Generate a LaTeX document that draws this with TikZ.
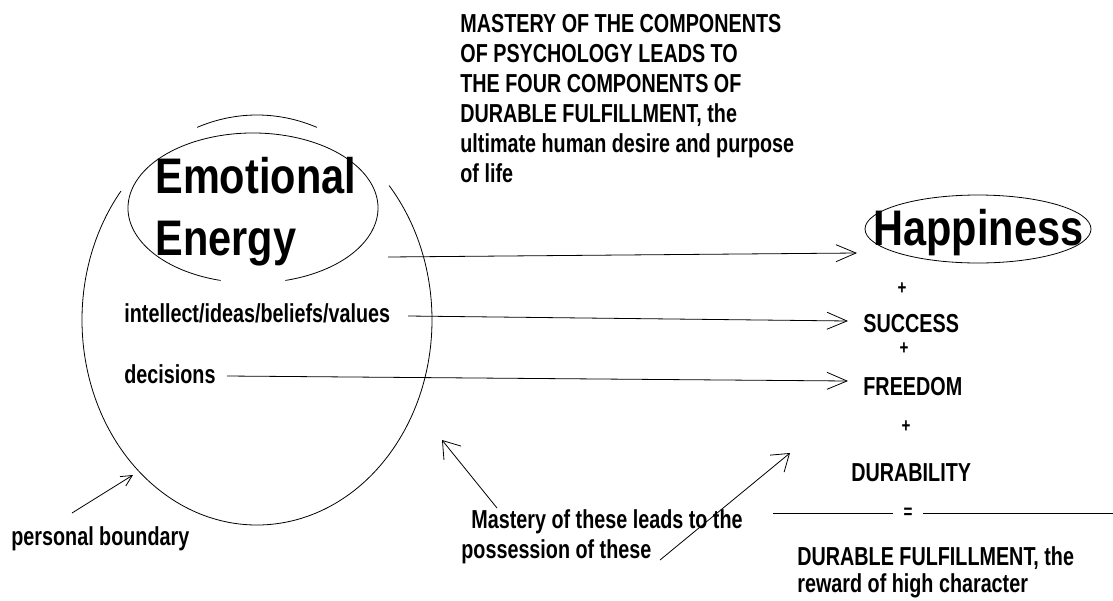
\documentclass[tikz,border=0pt]{standalone}
\usepackage{fontspec}
\setmainfont{Liberation Sans}[FakeStretch=0.76]
\newfontfamily\bigfont{Liberation Sans}[FakeStretch=0.83]
\usetikzlibrary{arrows.meta,shapes.geometric}
\begin{document}
\begin{tikzpicture}[x=1pt,y=-1pt,line width=0.8pt,
  txt/.style={anchor=base west,inner sep=0pt,font=\fontsize{26}{30}\selectfont\bfseries},
  bigtxt/.style={anchor=base west,inner sep=0pt,font=\bigfont\fontsize{50}{56}\selectfont\bfseries},
  plus/.style={inner sep=0pt,font=\fontsize{20}{20}\selectfont\bfseries},
  bigarr/.style={-{Straight Barb[length=20pt,width=17pt]}},
  midarr/.style={-{Straight Barb[length=16pt,width=22pt]}},
  smallarr/.style={-{Straight Barb[length=11pt,width=11pt]}}]
\useasboundingbox (0,0) rectangle (1113,600);
% headline
\node[txt,align=left,anchor=north west] (head) at (460,14) {MASTERY OF THE COMPONENTS\\OF PSYCHOLOGY LEADS TO\\THE FOUR COMPONENTS OF\\DURABLE FULFILLMENT, the\\ultimate human desire and purpose\\of life};
% personal boundary (big ellipse in arcs)
\draw ([shift={(-110:175 and 205)}]257,320) arc[start angle=-110,end angle=-70,x radius=175,y radius=205];
\draw ([shift={(-141:175 and 205)}]257,320) arc[start angle=-141,end angle=-401,x radius=175,y radius=205];
% inner ellipse
\draw ([shift={(105:125 and 75)}]253,208) arc[start angle=105,end angle=435,x radius=125,y radius=75];
\node[bigtxt] (emo) at (155,193) {Emotional};
\node[bigtxt] (ene) at (155,255) {Energy};
\node[txt] (intel) at (124,322) {intellect/ideas/beliefs/values};
\node[txt] (dec) at (124,383) {decisions};
\node[txt] (pb) at (11,545) {personal boundary};
% right column
\node[ellipse,draw,minimum width=226pt,minimum height=68pt,inner sep=0pt] (hapell) at (978,229) {};
\node[bigtxt] (hap) at (873,245) {Happiness};
\node[plus] (p1) at (902,289) {+};
\node[txt] (succ) at (863,332) {SUCCESS};
\node[plus] (p2) at (904,349) {+};
\node[txt] (free) at (863,395) {FREEDOM};
\node[plus] (p3) at (906,427) {+};
\node[txt] (dura) at (851,481) {DURABILITY};
\node[plus] (eq) at (908,513) {=};
\node[txt] (df1) at (797,565) {DURABLE FULFILLMENT, the};
\node[txt] (df2) at (797,592) {reward of high character};
\node[txt] (m1) at (471,528) {Mastery of these leads to the};
\node[txt] (m2) at (461,558) {possession of these};
% connector coordinates
\coordinate (a1) at (388,257); \coordinate (b1) at (857,253);
\coordinate (a2) at (408,316); \coordinate (b2) at (848,321);
\coordinate (a3) at (227,376); \coordinate (b3) at (848,381);
\coordinate (a4) at (72,513);  \coordinate (b4) at (133,475);
\coordinate (a5) at (497,508); \coordinate (b5) at (442,440);
\coordinate (a6) at (660,560); \coordinate (b6) at (790,453);
\coordinate (l1) at (773,513); \coordinate (l2) at (893,513);
\coordinate (r1) at (923,513); \coordinate (r2) at (1113,513);
\draw[bigarr] (a1) -- (b1);
\draw[bigarr] (a2) -- (b2);
\draw[bigarr] (a3) -- (b3);
\draw[smallarr] (a4) -- (b4);
\draw[midarr] (a5) -- (b5);
\draw[midarr] (a6) -- (b6);
\draw (l1) -- (l2);
\draw (r1) -- (r2);
\end{tikzpicture}
\end{document}
